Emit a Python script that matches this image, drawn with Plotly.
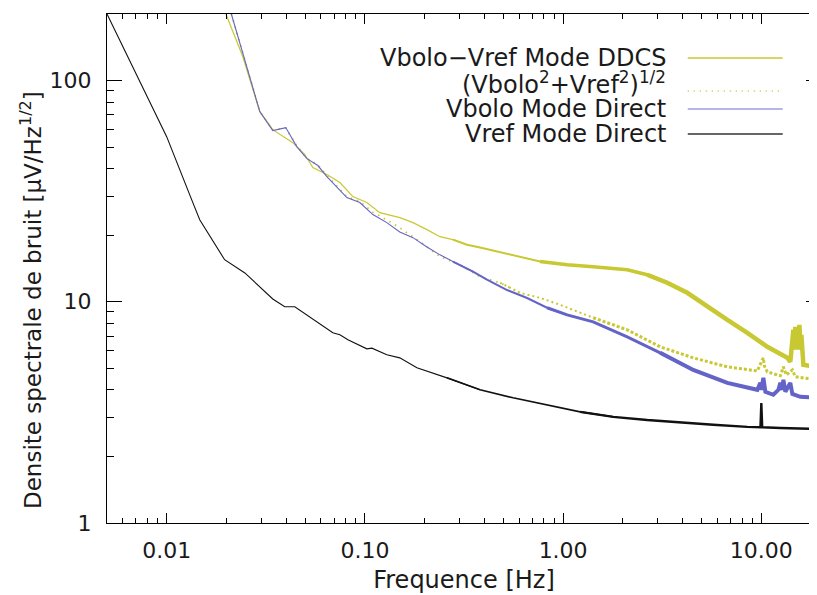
import plotly.graph_objects as go
import math

# ---------------- data ----------------
# Vbolo - Vref, mode DDCS (solid yellow)
ddcs_f = [0.0199, 0.0242, 0.0295, 0.0343, 0.0433, 0.0498, 0.0546, 0.0643, 0.0748, 0.0870,
          0.1023, 0.119, 0.150, 0.1748, 0.2056, 0.2392, 0.278, 0.3275, 0.381, 0.4808,
          0.6065, 0.765, 1.048, 1.418, 2.105, 2.656, 3.352, 4.23, 5.34, 6.74,
          8.50, 10.72, 13.53, 14.0, 14.51, 14.68, 14.85, 15.03, 15.20, 15.38,
          15.56, 15.74, 15.92, 16.11, 16.30, 18.74, 20.0]
ddcs_v = [200, 128.5, 72.4, 60.0, 52.4, 46.3, 40.4, 37.6, 34.6, 29.9,
          28.1, 25.3, 24.0, 22.8, 21.2, 19.7, 19.1, 18.1, 17.6, 16.8,
          16.0, 15.2, 14.7, 14.4, 13.95, 13.25, 12.2, 10.98, 9.49, 8.29,
          7.24, 6.26, 5.58, 5.35, 7.47, 6.07, 7.71, 6.39, 7.47, 6.07,
          7.87, 6.39, 7.09, 5.76, 5.19, 5.08, 5.05]

# (Vbolo^2 + Vref^2)^1/2 (dotted yellow)
quad_f = [0.0212, 0.0295, 0.0343, 0.0399, 0.0453, 0.0510, 0.0579, 0.0643, 0.0811, 0.0943,
          0.1097, 0.1233, 0.150, 0.1896, 0.2392, 0.3019, 0.381, 0.4808, 0.6065, 0.765,
          0.9656, 1.418, 2.105, 3.09, 4.535, 6.74, 9.545, 10.12, 10.24, 10.36,
          10.72, 12.47, 12.92, 13.37, 14.34, 14.85, 18.74, 20.0]
quad_v = [200, 72.6, 59.8, 61.0, 50.8, 44.6, 41.5, 37.2, 29.9, 28.4,
          25.4, 24.0, 21.6, 18.7, 16.0, 14.7, 12.98, 12.19, 10.98, 10.42,
          9.69, 8.47, 7.47, 6.26, 5.58, 5.08, 4.87, 5.47, 5.58, 5.13,
          4.82, 4.63, 5.08, 4.67, 4.92, 4.58, 4.44, 4.42]

# Vbolo, mode direct (blue)
vbolo_f = [0.0212, 0.0295, 0.0343, 0.0399, 0.0453, 0.0510, 0.0579, 0.0643, 0.0811, 0.0943,
           0.1097, 0.129, 0.150, 0.1748, 0.2056, 0.2392, 0.278, 0.351, 0.413, 0.5215,
           0.658, 0.830, 1.048, 1.418, 2.105, 3.09, 4.535, 6.74, 9.545, 9.88,
           10.0, 10.24, 10.48, 11.5, 12.19, 12.47, 12.77, 12.92, 13.22, 14.0,
           14.34, 15.74, 18.74, 20.0]
vbolo_v = [200, 72.4, 59.4, 61.3, 50.3, 44.4, 41.3, 36.8, 29.6, 28.1,
           24.8, 22.8, 20.7, 19.5, 17.7, 16.3, 15.2, 13.7, 12.6, 11.3,
           10.4, 9.40, 8.73, 8.12, 6.94, 5.88, 4.92, 4.30, 4.00, 4.30,
           4.00, 4.53, 3.92, 3.80, 4.00, 4.30, 4.00, 4.44, 3.92, 4.30,
           3.83, 3.72, 3.68, 3.67]

# Vref, mode direct (black)
vref_f = [0.005, 0.01, 0.01338, 0.01468, 0.0196, 0.0248, 0.0343, 0.0394, 0.0443, 0.0689,
          0.0748, 0.0821, 0.1023, 0.1085, 0.129, 0.150, 0.183, 0.2595, 0.381, 0.559,
          0.830, 1.219, 1.789, 2.656, 3.90, 5.72, 8.50, 9.9, 10.0, 10.1,
          12.5, 18.74, 20.0]
vref_v = [200, 55.8, 28.9, 23.5, 15.5, 13.5, 10.3, 9.49, 9.49, 7.24,
          7.09, 6.73, 6.13, 6.17, 5.76, 5.58, 5.03, 4.53, 4.00, 3.68,
          3.42, 3.18, 3.02, 2.92, 2.84, 2.78, 2.72, 2.71, 3.49, 2.71,
          2.69, 2.67, 2.66]

series_names = ["Vbolo\u2212Vref Mode DDCS",
                "(Vbolo<sup>2</sup>+Vref<sup>2</sup>)<sup>1/2</sup>",
                "Vbolo Mode Direct",
                "Vref Mode Direct"]

x_ticks = [0.01, 0.1, 1, 10]
x_ticktext = ["0.01", "0.10", "1.00", "10.00"]
y_ticks = [1, 10, 100]
y_ticktext = ["1", "10", "100"]
x_title = "Frequence [Hz]"
y_title = "Densite spectrale de bruit [\u03bcV/Hz<sup>1/2</sup>]"

YELLOW = "#c8c832"
BLUE = "#6464c8"
BLACK = "#111111"
FONT = "DejaVu Sans"
TXT = "#1a1a1a"

fig = go.Figure()


def add_series(f, v, color, bands):
    """bands: list of (f_start, width, dash); draws segments with growing width."""
    n = len(f)
    for i, (lo, w, dash) in enumerate(bands):
        hi = bands[i + 1][0] if i + 1 < len(bands) else float("inf")
        i0 = 0
        for k in range(n):
            if f[k] <= lo:
                i0 = k
        i1 = n - 1
        for k in range(n - 1, -1, -1):
            if f[k] >= hi:
                i1 = k
        fig.add_trace(go.Scatter(
            x=f[i0:i1 + 1], y=v[i0:i1 + 1], mode="lines",
            line=dict(color=color, width=w, dash=dash),
            showlegend=False, hoverinfo="skip"))


add_series(ddcs_f, ddcs_v, YELLOW, [(0, 1.2, "solid"), (0.3, 2.0, "solid"), (0.9, 3.5, "solid"), (3.0, 4.5, "solid")])
add_series(quad_f, quad_v, YELLOW, [(0, 1.8, "1.5px,5px"), (0.5, 2.0, "2px,3px"), (2.0, 3.0, "3px,2px")])
add_series(vbolo_f, vbolo_v, BLUE, [(0, 1.1, "solid"), (0.3, 2.0, "solid"), (1.0, 3.0, "solid"), (4.0, 4.0, "solid")])
add_series(vref_f, vref_v, BLACK, [(0, 1.1, "solid"), (0.3, 1.6, "solid"), (1.5, 2.4, "solid")])

# ---------------- layout geometry ----------------
# the page adds an 8px body margin, so the figure is shifted by 8px right and down
W, H = 817, 595
ML, MT, MB = 99, 6, 80
X_LO, X_HI = 0.005, 20.0
plot_w = 198.3 * math.log10(X_HI / X_LO)
MR = W - ML - plot_w
plot_h = H - MT - MB


def px_x(px):   # page pixel -> paper x
    return (px - 8 - ML) / plot_w


def px_y(py):   # page pixel -> paper y
    return (H - MB - (py - 8)) / plot_h


# ---------------- legend (text + line samples, drawn on the right) ----------------
leg_text_y = [58, 83, 109, 134]
leg_line_y = [58, 91, 109, 134]
leg_col = [YELLOW, YELLOW, "#9c9ce0", "#333333"]
leg_dash = ["solid", "1px,5px", "solid", "solid"]
for name, ty, ly, c, d in zip(series_names, leg_text_y, leg_line_y, leg_col, leg_dash):
    fig.add_annotation(x=px_x(668), y=px_y(ty), xref="paper", yref="paper", text=name,
                       showarrow=False, xanchor="right", yanchor="middle",
                       font=dict(family=FONT, size=24, color=TXT))
    fig.add_shape(type="line", xref="paper", yref="paper", x0=px_x(688), x1=px_x(783),
                  y0=px_y(ly), y1=px_y(ly), line=dict(color=c, width=1.5, dash=d))

# y-axis title as a rotated annotation (centred a little below the plot middle, as in the original)
fig.add_annotation(x=px_x(31), y=px_y(300), xref="paper", yref="paper", text=y_title,
                   showarrow=False, textangle=-90, xanchor="center", yanchor="middle",
                   font=dict(family=FONT, size=23, color=TXT))

minor_x = [m * 10 ** e for e in range(-3, 2) for m in range(2, 10)]
minor_x = [t for t in minor_x if X_LO <= t <= X_HI]
minor_y = [m * 10 ** e for e in range(0, 3) for m in range(2, 10)]
minor_y = [t for t in minor_y if t < 200]

fig.update_layout(
    width=W, height=H,
    margin=dict(l=ML, r=MR, t=MT, b=MB, autoexpand=False),
    paper_bgcolor="white", plot_bgcolor="white",
    font=dict(family=FONT, size=22, color=TXT),
    xaxis=dict(
        type="log", range=[math.log10(X_LO), math.log10(X_HI)],
        tickvals=x_ticks, ticktext=x_ticktext, automargin=False,
        ticks="inside", ticklen=10, tickwidth=1, tickcolor="black",
        minor=dict(tickvals=minor_x, ticks="inside", ticklen=5, tickcolor="black", showgrid=False),
        showline=True, linecolor="black", linewidth=1, mirror="ticks",
        showgrid=False, zeroline=False,
        tickfont=dict(size=22), ticklabelstandoff=8,
        title=dict(text=x_title, font=dict(size=24), standoff=8),
    ),
    yaxis=dict(
        type="log", range=[0, math.log10(200)],
        tickvals=y_ticks, ticktext=y_ticktext, automargin=False,
        ticks="inside", ticklen=15, tickwidth=1, tickcolor="black",
        minor=dict(tickvals=minor_y, ticks="inside", ticklen=7, tickcolor="black", showgrid=False),
        showline=True, linecolor="black", linewidth=1, mirror="ticks",
        showgrid=False, zeroline=False,
        tickfont=dict(size=22), ticklabelstandoff=10,
    ),
)

fig.write_html("out.html")
